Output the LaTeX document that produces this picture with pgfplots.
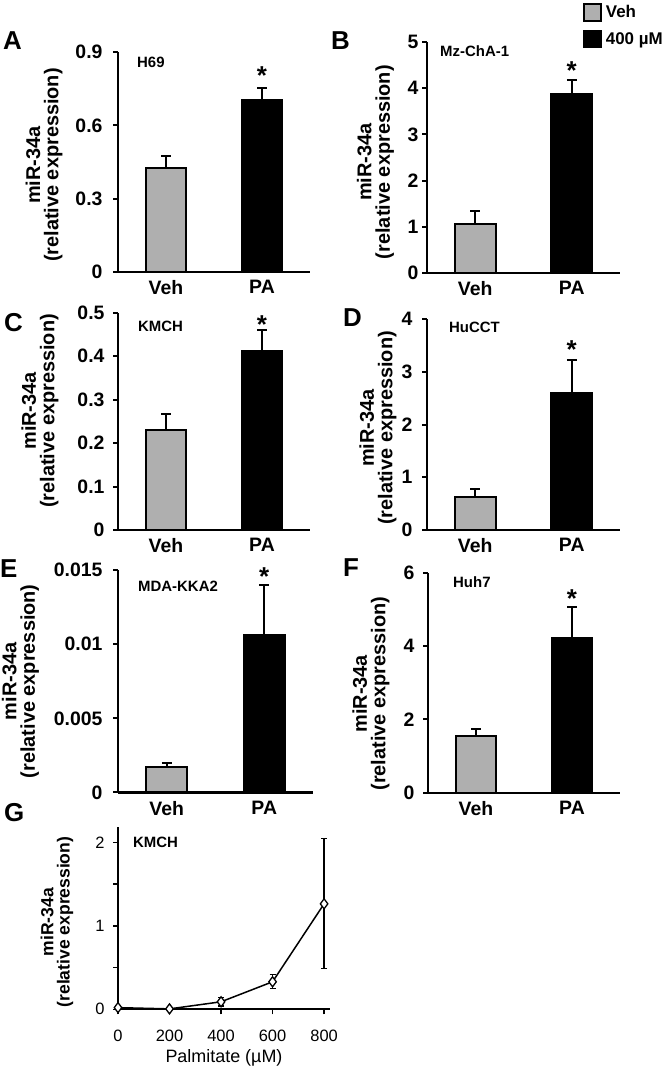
\documentclass[border=0pt]{standalone}
\usepackage{fontspec}
\setmainfont{Liberation Sans}
\usepackage{pgfplots}
\pgfplotsset{compat=1.18}
\definecolor{vehgray}{RGB}{175,175,175}
\newcommand{\cellfont}{\fontsize{15}{15}\selectfont\bfseries}
\newcommand{\starfont}{\fontsize{26}{26}\selectfont\bfseries}
\newcommand{\letterfont}{\fontsize{26}{26}\selectfont\bfseries}
\pgfplotsset{
  barpanel/.style={
    scale only axis,
    anchor=south west,
    xmin=0, xmax=2,
    ymin=0,
    axis x line*=bottom,
    axis y line*=left,
    axis line style={line width=2.2bp},
    ybar, bar width=0.42, bar shift=0pt,
    xtick={0.5,1.5}, xticklabels={Veh,PA},
    x tick style={draw=none},
    y tick style={line width=2bp, black},
    tick align=outside,
    major tick length=5bp,
    clip=false,
    /pgf/number format/assume math mode=true,
    tick label style={font=\fontsize{19.5}{20}\selectfont\bfseries},
    ylabel={miR-34a\\(relative expression)},
    ylabel style={align=center, font=\fontsize{20}{18.5}\selectfont\bfseries, anchor=center},
    scaled y ticks=false,
    every axis plot/.append style={draw=black, line width=2bp},
  },
  errplus/.style={error bars/.cd, y dir=plus, y explicit,
    error bar style={line width=2bp, black},
    error mark options={rotate=90, line width=2bp, black, mark size=5bp}},
}
\begin{document}
\begin{tikzpicture}[x=1bp,y=1bp]
\useasboundingbox (0,0) rectangle (667,1070);

% Panel letters
\node[anchor=base west, inner sep=0, font=\letterfont] at (3,1020) {A};
\node[anchor=base west, inner sep=0, font=\letterfont] at (331,1020) {B};
\node[anchor=base west, inner sep=0, font=\letterfont] at (4,738) {C};
\node[anchor=base west, inner sep=0, font=\letterfont] at (343,743) {D};
\node[anchor=base west, inner sep=0, font=\letterfont] at (0,492) {E};
\node[anchor=base west, inner sep=0, font=\letterfont] at (343,493) {F};
\node[anchor=base west, inner sep=0, font=\letterfont] at (4,248) {G};

% A
\begin{axis}[barpanel, at={(118bp,798bp)}, width=192bp, height=220bp,
  ymax=0.9, ytick={0,0.3,0.6,0.9},
  yticklabel style={xshift=-7bp},
  ylabel style={at={(axis description cs:-0.385,0.486)}}]
\addplot[fill=vehgray, errplus] coordinates {(0.5,0.425) +- (0,0.05)};
\addplot[fill=black, errplus] coordinates {(1.5,0.703) +- (0,0.048)};
\node[anchor=base west, xshift=19bp, yshift=-16bp, inner sep=0, font=\cellfont] at (rel axis cs:0,1) {H69};
\node[anchor=base, inner sep=0, font=\starfont] at (axis cs:1.5,0.769) {*};
\end{axis}

% B
\begin{axis}[barpanel, at={(427bp,797bp)}, width=193bp, height=231bp,
  ymax=5, ytick={0,1,2,3,4,5},
  ylabel style={at={(axis description cs:-0.267,0.48)}},
  legend style={at={(rel axis cs:0.808,1.169)}, anchor=north west, draw=none, fill=none,
    font=\fontsize{17}{17}\selectfont\bfseries, row sep=8bp, inner sep=0pt},
  legend cell align=left,
  legend image code/.code={\draw[#1, line width=1.5bp] (0bp,-8.5bp) rectangle (17bp,8.5bp); \path (19bp,0bp);}]
\addplot[fill=vehgray, errplus] coordinates {(0.5,1.07) +- (0,0.28)};
\addlegendentry{Veh}
\addplot[fill=black, errplus] coordinates {(1.5,3.87) +- (0,0.30)};
\addlegendentry{400 µM}
\node[anchor=base west, xshift=13bp, yshift=-15bp, inner sep=0, font=\cellfont] at (rel axis cs:0,1) {Mz-ChA-1};
\node[anchor=base, inner sep=0, font=\starfont] at (axis cs:1.5,4.18) {*};
\end{axis}

% C
\begin{axis}[barpanel, at={(118bp,540bp)}, width=192bp, height=217.3bp,
  ymax=0.5, ytick={0,0.1,0.2,0.3,0.4,0.5},
  yticklabel style={xshift=-5bp},
  ylabel style={at={(axis description cs:-0.406,0.548)}}]
\addplot[fill=vehgray, errplus] coordinates {(0.5,0.23) +- (0,0.038)};
\addplot[fill=black, errplus] coordinates {(1.5,0.412) +- (0,0.049)};
\node[anchor=base west, xshift=20bp, yshift=-19bp, inner sep=0, font=\cellfont] at (rel axis cs:0,1) {KMCH};
\node[anchor=base, inner sep=0, font=\starfont] at (axis cs:1.5,0.453) {*};
\end{axis}

% D
\begin{axis}[barpanel, at={(427bp,540bp)}, width=193bp, height=210.7bp,
  ymax=4, ytick={0,1,2,3,4},
  yticklabel style={xshift=-6bp},
  ylabel style={at={(axis description cs:-0.254,0.484)}}]
\addplot[fill=vehgray, errplus] coordinates {(0.5,0.63) +- (0,0.15)};
\addplot[fill=black, errplus] coordinates {(1.5,2.6) +- (0,0.63)};
\node[anchor=base west, xshift=22bp, yshift=-13bp, inner sep=0, font=\cellfont] at (rel axis cs:0,1) {HuCCT};
\node[anchor=base, inner sep=0, font=\starfont] at (axis cs:1.5,3.25) {*};
\end{axis}

% E
\begin{axis}[barpanel, at={(118bp,277.5bp)}, width=195bp, height=222.5bp,
  ymax=0.015, ytick={0,0.005,0.01,0.015},
  yticklabel style={xshift=-7bp, /pgf/number format/fixed, /pgf/number format/precision=3},
  ylabel style={at={(axis description cs:-0.5,0.5)}}]
\addplot[fill=vehgray, errplus] coordinates {(0.5,0.00173) +- (0,0.00027)};
\addplot[fill=black, errplus] coordinates {(1.5,0.0106) +- (0,0.0034)};
\node[anchor=base west, xshift=20bp, yshift=-22bp, inner sep=0, font=\cellfont] at (rel axis cs:0,1) {MDA-KKA2};
\node[anchor=base, inner sep=0, font=\starfont] at (axis cs:1.5,0.01395) {*};
\end{axis}

% F
\begin{axis}[barpanel, at={(428bp,277.3bp)}, width=192bp, height=220bp,
  ymax=6, ytick={0,2,4,6},
  yticklabel style={xshift=-5bp},
  ylabel style={at={(axis description cs:-0.297,0.45)}}]
\addplot[fill=vehgray, errplus] coordinates {(0.5,1.555) +- (0,0.175)};
\addplot[fill=black, errplus] coordinates {(1.5,4.23) +- (0,0.83)};
\node[anchor=base west, xshift=25bp, yshift=-15bp, inner sep=0, font=\cellfont] at (rel axis cs:0,1) {Huh7};
\node[anchor=base, inner sep=0, font=\starfont] at (axis cs:1.5,5.04) {*};
\end{axis}

% G
\begin{axis}[scale only axis, anchor=south west, at={(118bp,60.7bp)},
  width=212bp, height=182.6bp,
  xmin=0, xmax=823, ymin=0, ymax=2.19,
  axis x line*=bottom, axis y line*=left,
  axis line style={line width=1.8bp},
  xtick={0,200,400,600,800}, ytick={0,1,2}, minor ytick={0.5,1.5},
  tick align=outside, major tick length=5bp, minor tick length=5bp,
  tick style={line width=1.5bp, black},
  clip=false,
  /pgf/number format/assume math mode=true,
  tick label style={font=\fontsize{16.5}{17}\selectfont},
  xticklabel style={yshift=-12bp},
  yticklabel style={xshift=-5bp},
  xlabel={Palmitate (µM)},
  xlabel style={font=\fontsize{18}{18}\selectfont, yshift=-1bp},
  ylabel={miR-34a\\(relative expression)},
  ylabel style={align=center, font=\fontsize{17.6}{16.5}\selectfont\bfseries, anchor=center,
    at={(axis description cs:-0.288,0.478)}}]
\addplot[black, line width=1.5bp, mark=diamond*, mark size=5bp,
  mark options={fill=white, line width=1.3bp},
  error bars/.cd, y dir=both, y explicit,
  error bar style={line width=1.2bp, black},
  error mark options={rotate=90, mark size=3bp, line width=1.2bp, black}]
  coordinates {(0,0.02) +- (0,0.02) (200,0.005) +- (0,0.01) (400,0.09) +- (0,0.05) (600,0.33) +- (0,0.085) (800,1.265) +- (0,0.78)};
\node[anchor=base west, xshift=15bp, yshift=-21bp, inner sep=0, font=\cellfont] at (rel axis cs:0,1) {KMCH};
\end{axis}
\end{tikzpicture}
\end{document}
